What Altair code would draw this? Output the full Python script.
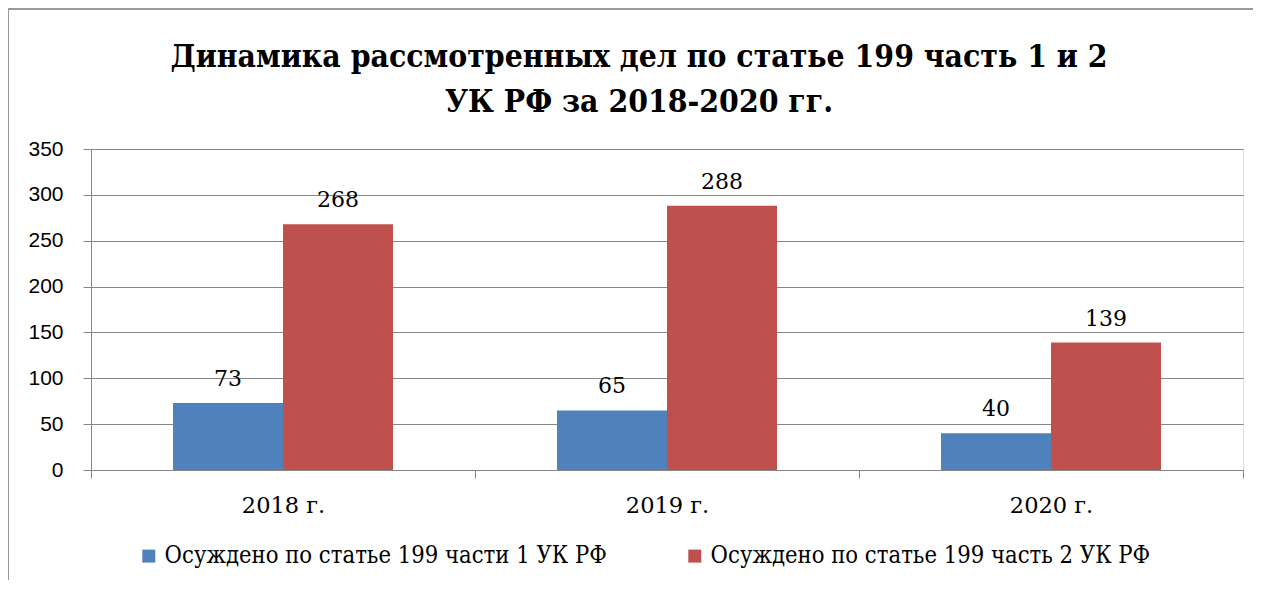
import altair as alt
import pandas as pd

years = ["2018 г.", "2019 г.", "2020 г."]
series = ["Осуждено по статье 199 части 1 УК РФ", "Осуждено по статье 199 часть 2 УК РФ"]
part1 = [73, 65, 40]
part2 = [268, 288, 139]
colors = ["#4F81BD", "#C0504D"]
y_ticks = [0, 50, 100, 150, 200, 250, 300, 350]
title_lines = ["Динамика рассмотренных дел по статье 199 часть 1 и 2", "УК РФ за 2018-2020 гг."]

rows = []
for i, yr in enumerate(years):
    rows.append({"year": yr, "series": series[0], "value": part1[i]})
    rows.append({"year": yr, "series": series[1], "value": part2[i]})
df = pd.DataFrame(rows)

GRAY = "#878787"
SANS = "Liberation Sans"
SERIF = "DejaVu Serif"
SERIF_C = "DejaVu Serif Condensed"
W, H = 1152, 321

x_enc = alt.X(
    "year:N", sort=years,
    scale=alt.Scale(paddingInner=0, paddingOuter=0),
    axis=alt.Axis(title=None, labelAngle=0, tickBand="extent", labelFont=SERIF,
                  labelFontSize=22.5, labelColor="black", tickSize=8, labelPadding=16,
                  tickColor=GRAY, domainColor=GRAY, grid=False),
)
xoff = alt.XOffset("series:N", sort=series, scale=alt.Scale(paddingInner=0, paddingOuter=0.7455))
y_enc = alt.Y(
    "value:Q", scale=alt.Scale(domain=[0, 350], nice=False),
    axis=alt.Axis(values=y_ticks, title=None, labelFont=SANS, labelFontSize=21,
                  labelColor="black", tickSize=8, labelPadding=20, tickColor=GRAY,
                  domainColor=GRAY, gridColor=GRAY, grid=True),
)

bars = alt.Chart(df).mark_bar().encode(
    x=x_enc, xOffset=xoff, y=y_enc,
    color=alt.Color("series:N", sort=series, scale=alt.Scale(domain=series, range=colors),
                    legend=alt.Legend(orient="none", legendX=46, legendY=395, direction="horizontal",
                                      title=None, labelFont=SERIF_C, labelFontSize=23.6,
                                      labelColor="black", symbolType="square", symbolSize=169,
                                      symbolStrokeWidth=0, columnPadding=76, labelOffset=4,
                                      padding=0, labelLimit=1000)),
)

labels = alt.Chart(df).mark_text(font=SERIF, fontSize=22, color="black",
                                 baseline="alphabetic", dy=-17).encode(
    x=alt.X("year:N", sort=years), xOffset=alt.XOffset("series:N", sort=series), y="value:Q",
    text="value:Q",
)

border_left = alt.Chart(df).mark_rule(color="#9a9a9a", strokeWidth=1.5).encode(
    x=alt.value(-83), y=alt.value(-140), y2=alt.value(H + 110)
)
border_top = alt.Chart(df).mark_rule(color="#9a9a9a", strokeWidth=1.5).encode(
    x=alt.value(-83), x2=alt.value(W + 10), y=alt.value(-140)
)

chart = alt.layer(bars, labels, border_left, border_top).properties(
    width=W, height=H,
    autosize=alt.AutoSizeParams(type="none"),
    padding={"left": 83, "top": 141, "right": 10, "bottom": 110},
    title=alt.TitleParams(text=title_lines, font=SERIF_C, fontSize=31.6, fontWeight="bold",
                          color="black", anchor="middle", frame="group", dx=-28, offset=-110,
                          lineHeight=45),
).configure_view(stroke=None).configure(background="white")

chart.save("out.html", embed_options={"renderer": "svg", "actions": False})
